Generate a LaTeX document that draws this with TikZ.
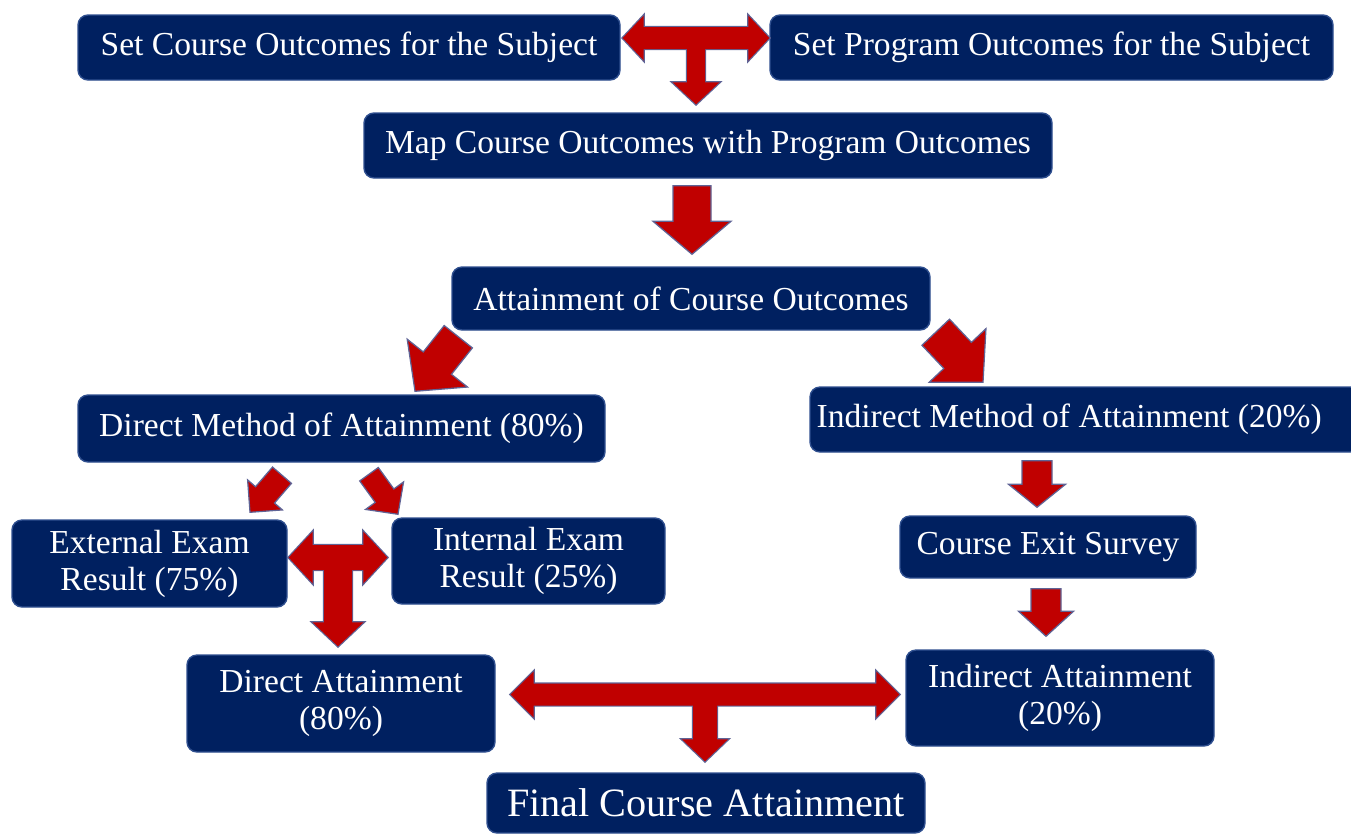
\documentclass[tikz,border=0pt]{standalone}
\usepackage{fontspec}
\setmainfont{Liberation Serif}
\usetikzlibrary{calc}
\definecolor{navy}{HTML}{002060}
\definecolor{boxedge}{HTML}{2F4F8F}
\definecolor{arrred}{HTML}{C00000}
\definecolor{arredge}{RGB}{95,100,150}
\tikzset{
  box/.style={draw=boxedge, line width=0.8pt, fill=navy, rounded corners=0.2cm,
              text=white, inner sep=0pt, align=center,
              font=\fontsize{19.1}{21}\selectfont},
  sz/.style 2 args={minimum width=#1*0.02cm, minimum height=#2*0.02cm},
  blk/.style={fill=arrred, draw=arredge, line width=0.7pt},
  blkedge/.style={fill=arrred, draw=arredge, line width=1.4pt},
  blkfill/.style={fill=arrred, draw=none}
}
% block arrow: tail, tip, half shaft, half head, head length
\newcommand{\blockarrow}[6][blk]{
  \coordinate (bh) at ($(#3)!#6!(#2)$);
  \path[#1] ($(#2)!#4!90:(#3)$) -- ($(bh)!#4!-90:(#2)$) -- ($(bh)!#5!-90:(#2)$) -- (#3)
    -- ($(bh)!#5!90:(#2)$) -- ($(bh)!#4!90:(#2)$) -- ($(#2)!#4!-90:(#3)$) -- cycle;
}
\newcommand{\dblarrow}[6][blk]{
  \coordinate (dh1) at ($(#2)!#6!(#3)$);
  \coordinate (dh2) at ($(#3)!#6!(#2)$);
  \path[#1] (#2) -- ($(dh1)!#5!90:(#3)$) -- ($(dh1)!#4!90:(#3)$)
    -- ($(dh2)!#4!-90:(#2)$) -- ($(dh2)!#5!-90:(#2)$) -- (#3)
    -- ($(dh2)!#5!90:(#2)$) -- ($(dh2)!#4!90:(#2)$)
    -- ($(dh1)!#4!-90:(#3)$) -- ($(dh1)!#5!-90:(#3)$) -- cycle;
}
% T shaped arrow: left tip, right tip, down tip, then sizes
\newcommand{\tarrow}[9]{
  \coordinate (tm) at ($(#1)!0.5!(#2)$);
  \dblarrow[blkedge]{#1}{#2}{#4}{#5}{#6}
  \blockarrow[blkedge]{tm}{#3}{#7}{#8}{#9}
  \dblarrow[blkfill]{#1}{#2}{#4}{#5}{#6}
  \blockarrow[blkfill]{tm}{#3}{#7}{#8}{#9}
}

\begin{document}
\begin{tikzpicture}[x=0.02cm, y=-0.02cm]
  \useasboundingbox (0,0) rectangle (1351,833);

  \node[box, sz={542}{65}] (co) at (349,47.5) {Set Course Outcomes for the Subject};
  \node[box, sz={563}{65}] (po) at (1051.5,47.5) {Set Program Outcomes for the Subject};
  \node[box, sz={688}{65}] (map) at (708,145.5) {Map Course Outcomes with Program Outcomes};
  \node[box, sz={478}{63}] (att) at (691,298.5) {Attainment of Course Outcomes};
  \node[box, sz={527}{67}] (dm) at (341.5,428.5) {Direct Method of Attainment (80\%)};
  \node[box, sz={550}{65}] (im) at (1085,419.5) {\hspace*{-18pt}Indirect Method of Attainment (20\%)};
  \node[box, sz={275}{87}] (ext) at (149.5,563.5) {External Exam\\Result (75\%)};
  \node[box, sz={273}{86}] (int) at (528.5,561) {Internal Exam\\Result (25\%)};
  \node[box, sz={296}{62}] (ces) at (1048,547) {Course Exit Survey};
  \node[box, sz={308}{97}] (da) at (341,703.5) {Direct Attainment\\(80\%)};
  \node[box, sz={308}{96}] (ia) at (1060,698) {Indirect Attainment\\(20\%)};
  \node[box, sz={438}{60}, font=\fontsize{22.9}{26}\selectfont] (fca) at (706,803) {Final Course Attainment};

  % ends of the block arrows
  \coordinate (t1l) at ($(co.east)+(2,-9.5)$);
  \coordinate (t1r) at ($(po.west)+(0,-9.5)$);
  \coordinate (t1d) at ($(map.north)+(-12,-8)$);
  \coordinate (a1s) at ($(map.south)+(-16,7)$);
  \coordinate (a1e) at ($(att.north)+(1,-12)$);
  \coordinate (a2s) at ($(att.south west)+(7,6)$);
  \coordinate (a2e) at ($(dm.north)+(73.5,-3)$);
  \coordinate (a3s) at ($(att.south east)+(5,1.5)$);
  \coordinate (a3e) at ($(im.north)+(-102,-4)$);
  \coordinate (a4s) at ($(dm.south)+(-59.5,12.5)$);
  \coordinate (a4e) at ($(ext.north)+(100.5,-7)$);
  \coordinate (a5s) at ($(dm.south)+(27.5,11.5)$);
  \coordinate (a5e) at ($(int.north)+(-130.5,-3)$);
  \coordinate (t2l) at ($(ext.east)+(1,-6)$);
  \coordinate (t2r) at ($(int.west)+(-4,-3.5)$);
  \coordinate (t2d) at ($(da.north)+(-3,-8)$);
  \coordinate (a6s) at ($(im.south)+(-48,8)$);
  \coordinate (a6e) at ($(ces.north)+(-11,-8)$);
  \coordinate (a7s) at ($(ces.south)+(-2,10)$);
  \coordinate (a7e) at ($(ia.north)+(-14,-13)$);
  \coordinate (t3l) at ($(da.east)+(15,-9)$);
  \coordinate (t3r) at ($(ia.west)+(-6,-3.5)$);
  \coordinate (t3d) at ($(fca.north)+(-1,-11)$);

  \tarrow{t1l}{t1r}{t1d}{0.22cm}{0.45cm}{0.42cm}{0.18cm}{0.47cm}{0.44cm}
  \blockarrow{a1s}{a1e}{0.38cm}{0.78cm}{0.66cm}
  \blockarrow{a2s}{a2e}{0.36cm}{0.77cm}{0.72cm}
  \blockarrow{a3s}{a3e}{0.38cm}{0.78cm}{0.74cm}
  \blockarrow{a4s}{a4e}{0.25cm}{0.46cm}{0.46cm}
  \blockarrow{a5s}{a5e}{0.23cm}{0.47cm}{0.46cm}
  \tarrow{t2l}{t2r}{t2d}{0.25cm}{0.52cm}{0.48cm}{0.28cm}{0.51cm}{0.48cm}
  \blockarrow{a6s}{a6e}{0.3cm}{0.57cm}{0.46cm}
  \blockarrow{a7s}{a7e}{0.3cm}{0.55cm}{0.5cm}
  \tarrow{t3l}{t3r}{t3d}{0.22cm}{0.46cm}{0.46cm}{0.24cm}{0.46cm}{0.44cm}
\end{tikzpicture}
\end{document}
